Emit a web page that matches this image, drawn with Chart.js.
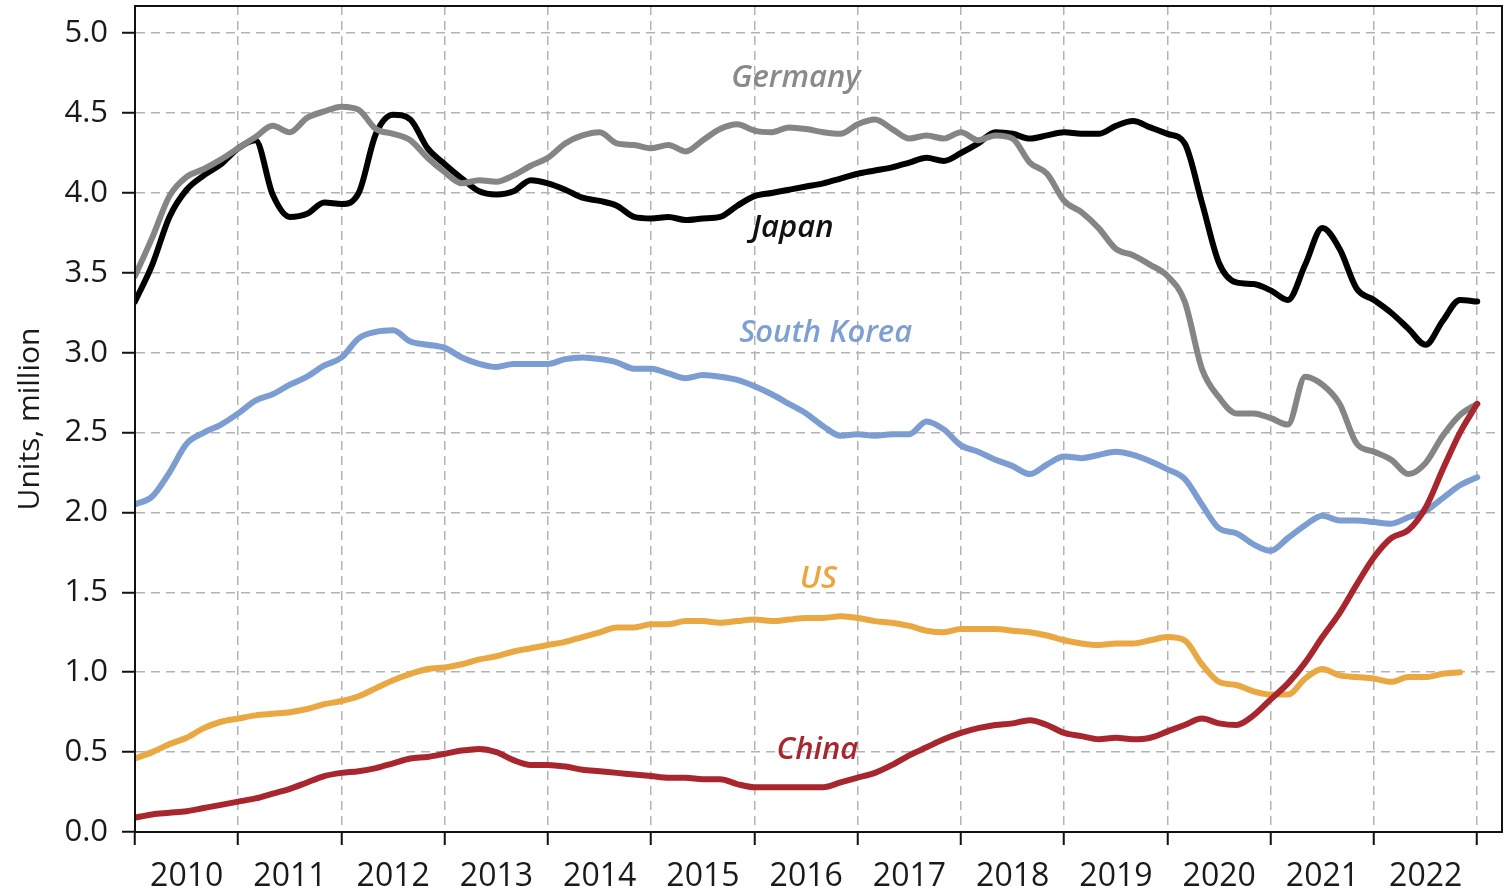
<!DOCTYPE html>
<html>
<head>
<meta charset="utf-8">
<script src="https://cdn.jsdelivr.net/npm/chart.js@4.4.1/dist/chart.umd.min.js"></script>
<style>
  html, body { margin: 0; padding: 0; background: #fff; }
  #wrap { width: 1504px; height: 894px; }
</style>
</head>
<body>
<div id="wrap"><canvas id="chart"></canvas></div>
<script>
// two-monthly readings, units in million
const months = [
  '2010-01', '2010-03', '2010-05', '2010-07', '2010-09', '2010-11',
  '2011-01', '2011-03', '2011-05', '2011-07', '2011-09', '2011-11',
  '2012-01', '2012-03', '2012-05', '2012-07', '2012-09', '2012-11',
  '2013-01', '2013-03', '2013-05', '2013-07', '2013-09', '2013-11',
  '2014-01', '2014-03', '2014-05', '2014-07', '2014-09', '2014-11',
  '2015-01', '2015-03', '2015-05', '2015-07', '2015-09', '2015-11',
  '2016-01', '2016-03', '2016-05', '2016-07', '2016-09', '2016-11',
  '2017-01', '2017-03', '2017-05', '2017-07', '2017-09', '2017-11',
  '2018-01', '2018-03', '2018-05', '2018-07', '2018-09', '2018-11',
  '2019-01', '2019-03', '2019-05', '2019-07', '2019-09', '2019-11',
  '2020-01', '2020-03', '2020-05', '2020-07', '2020-09', '2020-11',
  '2021-01', '2021-03', '2021-05', '2021-07', '2021-09', '2021-11',
  '2022-01', '2022-03', '2022-05', '2022-07', '2022-09', '2022-11',
  '2023-01'
];

const germany = [
  3.48, 3.72, 3.98, 4.10, 4.15, 4.21,
  4.28, 4.35, 4.42, 4.38, 4.47, 4.51,
  4.54, 4.52, 4.40, 4.37, 4.33, 4.22,
  4.13, 4.06, 4.08, 4.07, 4.11, 4.17,
  4.22, 4.31, 4.36, 4.38, 4.31, 4.30,
  4.28, 4.30, 4.26, 4.33, 4.40, 4.43,
  4.39, 4.38, 4.41, 4.40, 4.38, 4.37,
  4.43, 4.46, 4.40, 4.34, 4.36, 4.34,
  4.38, 4.33, 4.36, 4.34, 4.19, 4.12,
  3.95, 3.88, 3.78, 3.65, 3.61, 3.55,
  3.48, 3.32, 2.90, 2.72, 2.62, 2.62,
  2.59, 2.55, 2.85, 2.80, 2.68, 2.43,
  2.38, 2.33, 2.24, 2.31, 2.48, 2.61,
  2.68
];

const japan = [
  3.32, 3.55, 3.85, 4.02, 4.11, 4.18,
  4.28, 4.33, 3.99, 3.85, 3.87, 3.94,
  3.93, 4.00, 4.37, 4.49, 4.46, 4.28,
  4.18, 4.09, 4.01, 3.99, 4.01, 4.08,
  4.06, 4.02, 3.97, 3.95, 3.92, 3.85,
  3.84, 3.85, 3.83, 3.84, 3.85, 3.92,
  3.98, 4.00, 4.02, 4.04, 4.06, 4.09,
  4.12, 4.14, 4.16, 4.19, 4.22, 4.20,
  4.25, 4.31, 4.38, 4.37, 4.34, 4.36,
  4.38, 4.37, 4.37, 4.42, 4.45, 4.41,
  4.37, 4.31, 3.94, 3.56, 3.44, 3.43,
  3.39, 3.33, 3.55, 3.78, 3.65, 3.40,
  3.33, 3.25, 3.15, 3.05, 3.20, 3.33,
  3.32
];

const southKorea = [
  2.05, 2.10, 2.25, 2.43, 2.50, 2.55,
  2.62, 2.70, 2.74, 2.80, 2.85, 2.92,
  2.97, 3.09, 3.13, 3.14, 3.07, 3.05,
  3.03, 2.97, 2.93, 2.91, 2.93, 2.93,
  2.93, 2.96, 2.97, 2.96, 2.94, 2.90,
  2.90, 2.87, 2.84, 2.86, 2.85, 2.83,
  2.79, 2.74, 2.68, 2.62, 2.54, 2.48,
  2.49, 2.48, 2.49, 2.49, 2.57, 2.52,
  2.42, 2.38, 2.33, 2.29, 2.24, 2.30,
  2.35, 2.34, 2.36, 2.38, 2.36, 2.32,
  2.27, 2.21, 2.05, 1.90, 1.87, 1.80,
  1.76, 1.84, 1.92, 1.98, 1.95, 1.95,
  1.94, 1.93, 1.97, 2.01, 2.09, 2.17,
  2.22
];

const us = [
  0.46, 0.50, 0.55, 0.59, 0.65, 0.69,
  0.71, 0.73, 0.74, 0.75, 0.77, 0.80,
  0.82, 0.85, 0.90, 0.95, 0.99, 1.02,
  1.03, 1.05, 1.08, 1.10, 1.13, 1.15,
  1.17, 1.19, 1.22, 1.25, 1.28, 1.28,
  1.30, 1.30, 1.32, 1.32, 1.31, 1.32,
  1.33, 1.32, 1.33, 1.34, 1.34, 1.35,
  1.34, 1.32, 1.31, 1.29, 1.26, 1.25,
  1.27, 1.27, 1.27, 1.26, 1.25, 1.23,
  1.20, 1.18, 1.17, 1.18, 1.18, 1.20,
  1.22, 1.20, 1.05, 0.94, 0.92, 0.88,
  0.86, 0.86, 0.96, 1.02, 0.98, 0.97,
  0.96, 0.94, 0.97, 0.97, 0.99, 1.00,
  null
];

const china = [
  0.09, 0.11, 0.12, 0.13, 0.15, 0.17,
  0.19, 0.21, 0.24, 0.27, 0.31, 0.35,
  0.37, 0.38, 0.40, 0.43, 0.46, 0.47,
  0.49, 0.51, 0.52, 0.50, 0.45, 0.42,
  0.42, 0.41, 0.39, 0.38, 0.37, 0.36,
  0.35, 0.34, 0.34, 0.33, 0.33, 0.30,
  0.28, 0.28, 0.28, 0.28, 0.28, 0.31,
  0.34, 0.37, 0.42, 0.48, 0.53, 0.58,
  0.62, 0.65, 0.67, 0.68, 0.70, 0.67,
  0.62, 0.60, 0.58, 0.59, 0.58, 0.59,
  0.63, 0.67, 0.71, 0.68, 0.67, 0.73,
  0.83, 0.93, 1.06, 1.22, 1.37, 1.55,
  1.72, 1.84, 1.89, 2.03, 2.27, 2.50,
  2.68
];

const yearTicks = [2010, 2011, 2012, 2013, 2014, 2015, 2016, 2017, 2018, 2019, 2020, 2021, 2022, 2023];
const valueTicks = [0, 0.5, 1, 1.5, 2, 2.5, 3, 3.5, 4, 4.5, 5];

// in-chart series names, placed in data coordinates
const seriesNotes = [
  { text: 'Germany', x: 2016.40, y: 4.72, color: '#8a8a8a' },
  { text: 'Japan', x: 2016.37, y: 3.78, color: '#111111' },
  { text: 'South Korea', x: 2016.69, y: 3.12, color: '#7d9fd3' },
  { text: 'US', x: 2016.62, y: 1.58, color: '#eba63f' },
  { text: 'China', x: 2016.61, y: 0.51, color: '#a8262d' }
];

const FONT = '"Open Sans", "DejaVu Sans", sans-serif';

const toYear = s => {
  const [y, m] = s.split('-').map(Number);
  return y + (m - 1) / 12;
};
const xs = months.map(toYear);
const points = vals => vals.map((v, i) => ({ x: xs[i], y: v }));

const line = (label, vals, color) => ({
  label,
  data: points(vals),
  borderColor: color,
  backgroundColor: color,
  borderWidth: 6,
  pointRadius: 0,
  cubicInterpolationMode: 'monotone',
  borderJoinStyle: 'round',
  borderCapStyle: 'round'
});

// --- названия серий и рамка ---
const frameAndNotes = {
  id: 'frameAndNotes',
  afterDatasetsDraw(chart) {
    const { ctx, chartArea: a, scales: { x, y } } = chart;
    ctx.save();
    ctx.font = 'italic 600 31px ' + FONT;
    ctx.textAlign = 'center';
    ctx.textBaseline = 'middle';
    seriesNotes.forEach(n => {
      ctx.fillStyle = n.color;
      ctx.fillText(n.text, x.getPixelForValue(n.x), y.getPixelForValue(n.y));
    });
    ctx.strokeStyle = '#111';
    ctx.lineWidth = 2;
    ctx.strokeRect(a.left, a.top, a.right - a.left, a.bottom - a.top);
    ctx.restore();
  }
};

new Chart(document.getElementById('chart'), {
  type: 'line',
  data: {
    datasets: [
      line('China', china, '#a8262d'),
      line('Germany', germany, '#858585'),
      line('Japan', japan, '#000000'),
      line('South Korea', southKorea, '#7b9dd1'),
      line('US', us, '#eaa843')
    ]
  },
  options: {
    responsive: true,
    maintainAspectRatio: false,
    animation: false,
    layout: { padding: { top: 6, right: 2, left: 0, bottom: 0 } },
    plugins: {
      legend: { display: false },
      tooltip: { enabled: false }
    },
    scales: {
      x: {
        type: 'linear',
        min: 2010,
        max: 2023.24,
        afterBuildTicks: s => { s.ticks = yearTicks.map(v => ({ value: v })); },
        afterFit: s => { s.height = 62; s.paddingLeft = 0; s.paddingRight = 0; },
        grid: { color: '#b3b3b3', lineWidth: 1.5, tickColor: '#111', tickWidth: 2, tickLength: 13, tickBorderDash: [] },
        border: { color: '#111', width: 2, dash: [9, 6] },
        ticks: {
          autoSkip: false,
          maxRotation: 0,
          labelOffset: 51.7,
          padding: 13,
          color: '#1a1a1a',
          font: { size: 32, family: FONT },
          callback: v => (v < 2023 ? String(v) : '')
        }
      },
      y: {
        min: 0,
        max: 5.17,
        afterBuildTicks: s => { s.ticks = valueTicks.map(v => ({ value: v })); },
        afterFit: s => { s.width = 135; s.paddingTop = 0; s.paddingBottom = 0; },
        grid: { color: '#b3b3b3', lineWidth: 1.5, tickColor: '#111', tickWidth: 2, tickLength: 13, tickBorderDash: [] },
        border: { color: '#111', width: 2, dash: [9, 6] },
        ticks: {
          padding: 14,
          color: '#1a1a1a',
          font: { size: 31, family: FONT },
          callback: v => Number(v).toFixed(1)
        },
        title: {
          display: true,
          text: 'Units, million',
          color: '#1a1a1a',
          font: { size: 30, family: FONT },
          padding: { top: 12, bottom: 0 }
        }
      }
    }
  },
  plugins: [frameAndNotes]
});
</script>
</body>
</html>
